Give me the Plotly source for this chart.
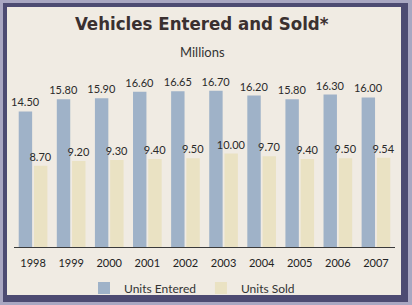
import plotly.graph_objects as go

years = ["1998", "1999", "2000", "2001", "2002", "2003", "2004", "2005", "2006", "2007"]
units_entered = [14.50, 15.80, 15.90, 16.60, 16.65, 16.70, 16.20, 15.80, 16.30, 16.00]
units_sold = [8.70, 9.20, 9.30, 9.40, 9.50, 10.00, 9.70, 9.40, 9.50, 9.54]

W, H = 412, 305
ML, MR, MT, MB = 14, 17, 60, 58
PW, PH = W - ML - MR, H - MT - MB

def px(x):
    return (x - ML) / PW

def py(y):
    return 1 - (y - MT) / PH

font_main = "Lato, Open Sans, sans-serif"

fig = go.Figure()
fig.add_trace(go.Bar(
    x=years, y=units_entered, name="Units Entered",
    marker=dict(color="#9fb2c8", line=dict(width=0)),
    texttemplate="%{y:.2f}", textposition="outside", constraintext="none",
    textfont=dict(family=font_main, size=11, color="#2a2a2a"),
    cliponaxis=False,
))
fig.add_trace(go.Bar(
    x=years, y=units_sold, name="Units Sold",
    marker=dict(color="#eae2c3", line=dict(width=0)),
    texttemplate="%{y:.2f}", textposition="outside", constraintext="none",
    textfont=dict(family=font_main, size=11, color="#2a2a2a"),
    cliponaxis=False,
))

shapes = [
    dict(type="rect", xref="paper", yref="paper", layer="below",
         x0=px(3), x1=px(408), y0=py(3), y1=py(302),
         fillcolor="#4d4b72", line=dict(width=0)),
    dict(type="rect", xref="paper", yref="paper", layer="below",
         x0=px(7), x1=px(401), y0=py(7), y1=py(295),
         fillcolor="#f0ebe3", line=dict(width=0)),
]

fig.update_layout(
    width=W, height=H,
    margin=dict(l=ML, r=MR, t=MT, b=MB, autoexpand=False),
    paper_bgcolor="#a9a7c2",
    plot_bgcolor="rgba(0,0,0,0)",
    barmode="group", bargap=0.2, bargroupgap=0.12,
    showlegend=True,
    legend=dict(orientation="h", x=px(192), xanchor="center", y=py(288), yanchor="middle",
                font=dict(family=font_main, size=12, color="#333333"),
                bgcolor="rgba(0,0,0,0)", itemwidth=30, traceorder="normal"),
    xaxis=dict(showline=True, linecolor="#3a3a3a", linewidth=1, ticks="",
               tickfont=dict(family=font_main, size=11, color="#222222"),
               ticklabelstandoff=6, automargin=False,
               showgrid=False, fixedrange=True),
    yaxis=dict(range=[0, 20], visible=False, showgrid=False, zeroline=False, automargin=False),
    shapes=shapes,
    annotations=[
        dict(text="<b>Vehicles Entered and Sold*</b>", xref="paper", yref="paper",
             x=px(202), y=py(23), xanchor="center", yanchor="middle", showarrow=False,
             font=dict(family="DejaVu Sans Condensed, sans-serif", size=18.5, color="#3a3030")),
        dict(text="Millions", xref="paper", yref="paper",
             x=px(202), y=py(52), xanchor="center", yanchor="middle", showarrow=False,
             font=dict(family=font_main, size=13, color="#333333")),
    ],
)

fig.write_html("out.html")
